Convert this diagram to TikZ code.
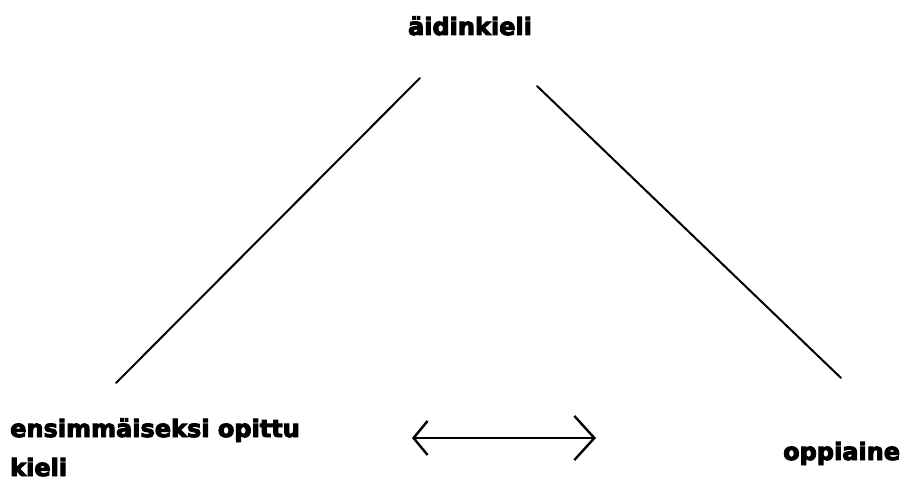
\documentclass[tikz,border=0pt]{standalone}
\usepackage{fontspec}
\setmainfont{DejaVu Sans}[BoldFeatures={FakeBold=4}]
\usetikzlibrary{positioning,arrows.meta}

\begin{document}
\begin{tikzpicture}[
    x=1pt, y=-1pt,
    word/.style={font=\fontsize{24}{39}\selectfont\bfseries, inner sep=0pt},
    side/.style={line width=2pt, line cap=round},
    arrow/.style={{Straight Barb[length=14pt,width=34pt]}-{Straight Barb[length=20pt,width=44pt]}, line width=2.4pt}
]
\useasboundingbox (0,0) rectangle (906,484);

% Texts at the three corners
\node[word, anchor=base] (mother) at (470,35) {äidinkieli};
\node[word, align=left, anchor=base west] (first) at (10,476) {ensimmäiseksi opittu\\kieli};
\node[word, anchor=base west] (subject) at (783,460) {oppiaine};

% Ends of the two sides
\coordinate (left-top) at (420,78);
\coordinate (left-bottom) at (116,383);
\coordinate (right-top) at (537,86);
\coordinate (right-bottom) at (841,378);

% Sides
\draw[side] (left-top) -- (left-bottom);
\draw[side] (right-top) -- (right-bottom);

% Arrow between the bottom corners
\coordinate (arrow-left) at (412,438);
\coordinate (arrow-right) at (596,438);
\draw[arrow] (arrow-left) -- (arrow-right);

\end{tikzpicture}
\end{document}
